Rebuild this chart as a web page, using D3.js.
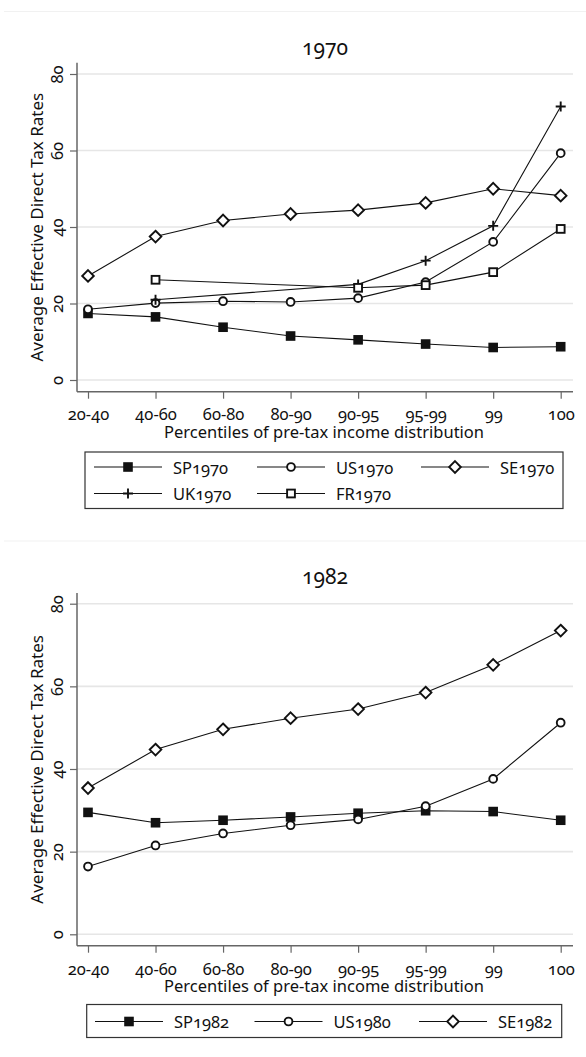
<!DOCTYPE html>
<html>
<head>
<meta charset="utf-8">
<script src="https://cdn.jsdelivr.net/npm/d3@7"></script>
<style>
  html, body { margin: 0; padding: 0; background: #fff; }
  svg { display: block; font-family: "Noto Sans", "Open Sans", sans-serif; font-variant-numeric: oldstyle-nums; font-feature-settings: "onum" 1; }
</style>
</head>
<body>
<svg id="chart" width="586" height="1057"></svg>
<script>
// Income groups on the horizontal axis
const percentiles = ["20-40", "40-60", "60-80", "80-90", "90-95", "95-99", "99", "100"];
const yTicks = [0, 20, 40, 60, 80];

// Average effective direct tax rates (%), 1970
const sp1970 = [17.4, 16.5, 13.8, 11.5, 10.5, 9.4, 8.5, 8.7];
const us1970 = [18.5, 20.1, 20.6, 20.4, 21.4, 25.6, 36.1, 59.3];
const se1970 = [27.2, 37.5, 41.7, 43.4, 44.4, 46.3, 50.0, 48.2];
const uk1970 = [null, 21.0, null, null, 25.0, 31.2, 40.3, 71.5];
const fr1970 = [null, 26.2, null, null, 24.1, 24.8, 28.2, 39.5];

// Around 1980
const sp1982 = [29.5, 27.0, 27.6, 28.4, 29.3, 29.9, 29.7, 27.6];
const us1980 = [16.4, 21.5, 24.4, 26.4, 27.8, 31.0, 37.6, 51.2];
const se1982 = [35.4, 44.7, 49.6, 52.3, 54.5, 58.5, 65.2, 73.5];

const svg = d3.select("#chart");
const ink = "#111";
const fontSize = 16.5;

// marker drawers
const markers = {
  squareFilled(g, x, y) {
    g.append("rect").attr("x", x - 4.8).attr("y", y - 4.8).attr("width", 9.6).attr("height", 9.6)
      .attr("fill", ink);
  },
  circle(g, x, y) {
    g.append("circle").attr("cx", x).attr("cy", y).attr("r", 3.9)
      .attr("fill", "#fff").attr("stroke", ink).attr("stroke-width", 1.9);
  },
  diamond(g, x, y) {
    const r = 5.8;
    g.append("path").attr("d", `M${x},${y - r}L${x + r},${y}L${x},${y + r}L${x - r},${y}Z`)
      .attr("fill", "#fff").attr("stroke", ink).attr("stroke-width", 1.9);
  },
  plus(g, x, y) {
    const r = 5;
    g.append("path").attr("d", `M${x - r},${y}H${x + r}M${x},${y - r}V${y + r}`)
      .attr("fill", "none").attr("stroke", ink).attr("stroke-width", 1.9);
  },
  squareHollow(g, x, y) {
    g.append("rect").attr("x", x - 3.9).attr("y", y - 3.9).attr("width", 7.8).attr("height", 7.8)
      .attr("fill", "#fff").attr("stroke", ink).attr("stroke-width", 1.9);
  }
};

function drawPanel(p) {
  const g = svg.append("g");

  const x = d3.scalePoint().domain(percentiles).range([88, 560.7]);
  const y = d3.scaleLinear().domain([0, 80]).range([p.y0, p.y80]);

  // faint frame line at the top of each panel
  g.append("line").attr("x1", 4).attr("x2", 586).attr("y1", p.frameY).attr("y2", p.frameY)
    .attr("stroke", "#f1f1f1").attr("stroke-width", 1);

  // title
  g.append("text").attr("x", 325).attr("y", p.titleY).attr("text-anchor", "middle")
    .attr("dominant-baseline", "central").attr("font-size", 21).attr("fill", ink).text(p.title);

  // horizontal grid
  g.append("g").selectAll("line").data(yTicks).join("line")
    .attr("x1", 77).attr("x2", 573)
    .attr("y1", d => y(d)).attr("y2", d => y(d))
    .attr("stroke", "#e6e6e6").attr("stroke-width", 1.6);

  // y axis
  const yAxis = g.append("g").attr("transform", "translate(77,0)")
    .call(d3.axisLeft(y).tickValues(yTicks).tickSize(7).tickPadding(0))
    .attr("font-family", null).attr("font-size", null);
  yAxis.select(".domain").remove();
  yAxis.selectAll(".tick line").attr("stroke", "#666").attr("stroke-width", 1.2);
  yAxis.selectAll(".tick text")
    .attr("x", 0).attr("dy", null)
    .attr("transform", "translate(-21,0) rotate(-90)")
    .attr("text-anchor", "middle").attr("dominant-baseline", "central")
    .attr("font-size", fontSize).attr("fill", ink);

  // x axis
  const xAxis = g.append("g").attr("transform", `translate(0,${p.axisY})`)
    .call(d3.axisBottom(x).tickSize(7).tickPadding(0))
    .attr("font-family", null).attr("font-size", null);
  xAxis.select(".domain").remove();
  xAxis.selectAll(".tick line").attr("stroke", "#666").attr("stroke-width", 1.2);
  xAxis.selectAll(".tick text")
    .attr("y", p.tickLabelY - p.axisY).attr("dy", null)
    .attr("dominant-baseline", "central")
    .attr("font-size", fontSize).attr("fill", ink);

  // axis lines
  g.append("line").attr("x1", 77).attr("x2", 77).attr("y1", p.axisTop).attr("y2", p.axisY)
    .attr("stroke", "#666").attr("stroke-width", 1.5);
  g.append("line").attr("x1", 77).attr("x2", 573).attr("y1", p.axisY).attr("y2", p.axisY)
    .attr("stroke", "#666").attr("stroke-width", 1.5);

  // axis titles
  g.append("text").attr("x", 324).attr("y", p.xTitleY).attr("text-anchor", "middle")
    .attr("dominant-baseline", "central").attr("font-size", fontSize).attr("fill", ink)
    .text("Percentiles of pre-tax income distribution");
  g.append("text")
    .attr("transform", `translate(36,${(p.axisTop + p.axisY) / 2}) rotate(-90)`)
    .attr("text-anchor", "middle").attr("dominant-baseline", "central")
    .attr("font-size", 17).attr("fill", ink)
    .text("Average Effective Direct Tax Rates");

  // series
  const line = d3.line().x(d => x(d.k)).y(d => y(d.v));
  p.series.forEach(s => {
    const pts = s.values.map((v, i) => ({ k: percentiles[i], v })).filter(d => d.v != null);
    g.append("path").datum(pts).attr("d", line)
      .attr("fill", "none").attr("stroke", ink).attr("stroke-width", 1.1);
  });
  p.series.forEach(s => {
    const pts = s.values.map((v, i) => ({ k: percentiles[i], v })).filter(d => d.v != null);
    const mg = g.append("g");
    pts.forEach(d => markers[s.marker](mg, x(d.k), y(d.v)));
  });

  // legend
  const L = p.legend;
  g.append("rect").attr("x", L.x0).attr("y", L.y0).attr("width", L.x1 - L.x0).attr("height", L.y1 - L.y0)
    .attr("fill", "#fff").attr("stroke", "#333").attr("stroke-width", 1.2);
  p.series.forEach((s, i) => {
    const col = i % 3, row = Math.floor(i / 3);
    const cx = L.cols[col], cy = L.rows[row];
    g.append("line").attr("x1", cx - 34).attr("x2", cx + 34).attr("y1", cy).attr("y2", cy)
      .attr("stroke", ink).attr("stroke-width", 1.1);
    markers[s.marker](g, cx, cy);
    g.append("text").attr("x", cx + 45).attr("y", cy).attr("dominant-baseline", "central")
      .attr("font-size", fontSize).attr("fill", ink).text(s.name);
  });
}

drawPanel({
  title: "1970", frameY: 11.5, titleY: 46.5,
  y0: 380, y80: 74, axisTop: 62.7, axisY: 391.7, tickLabelY: 413.5, xTitleY: 431,
  legend: { x0: 85, x1: 563, y0: 452, y1: 508.5, cols: [128, 291, 455], rows: [467, 493.5] },
  series: [
    { name: "SP1970", values: sp1970, marker: "squareFilled" },
    { name: "US1970", values: us1970, marker: "circle" },
    { name: "SE1970", values: se1970, marker: "diamond" },
    { name: "UK1970", values: uk1970, marker: "plus" },
    { name: "FR1970", values: fr1970, marker: "squareHollow" }
  ]
});

drawPanel({
  title: "1982", frameY: 541, titleY: 576,
  y0: 934.3, y80: 603.7, axisTop: 593, axisY: 945.7, tickLabelY: 968.5, xTitleY: 985.5,
  legend: { x0: 86.7, x1: 561.7, y0: 1004.5, y1: 1037.5, cols: [129, 288.5, 453], rows: [1021.5] },
  series: [
    { name: "SP1982", values: sp1982, marker: "squareFilled" },
    { name: "US1980", values: us1980, marker: "circle" },
    { name: "SE1982", values: se1982, marker: "diamond" }
  ]
});
</script>
</body>
</html>
